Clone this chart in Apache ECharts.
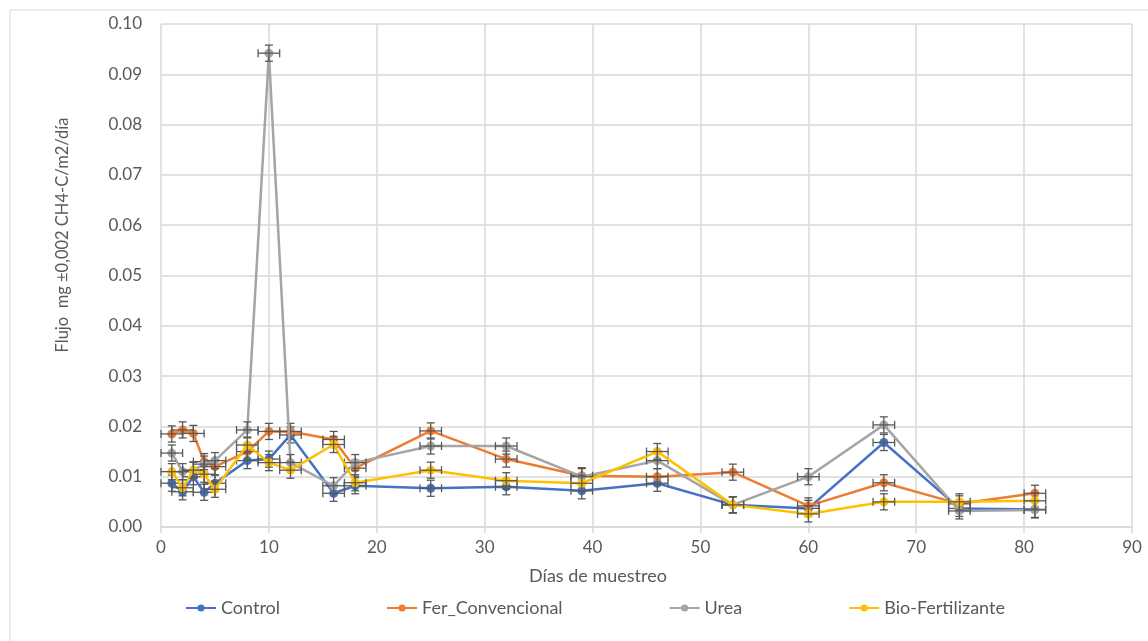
<!DOCTYPE html>
<html>
<head>
<meta charset="utf-8">
<script src="https://cdn.jsdelivr.net/npm/echarts@6/dist/echarts.min.js"></script>
<style>
html,body{margin:0;padding:0;background:#fff;}
#chart{width:1148px;height:641px;}
</style>
</head>
<body>
<div id="chart"></div>
<script>
const days = [1,2,3,4,5,8,10,12,16,18,25,32,39,46,53,60,67,74,81];
const control = [0.0087,0.0070,0.0100,0.0069,0.0087,0.0132,0.0135,0.0183,0.0067,0.0082,0.0077,0.0080,0.0072,0.0087,0.0044,0.0037,0.0168,0.0037,0.0035];
const ferConvencional = [0.0185,0.0193,0.0186,0.0130,0.0120,0.0150,0.0190,0.0190,0.0174,0.0117,0.0191,0.0135,0.0102,0.0100,0.0109,0.0042,0.0088,0.0046,0.0067];
const urea = [0.0147,0.0110,0.0113,0.0125,0.0132,0.0193,0.0942,0.0128,0.0082,0.0128,0.0161,0.0161,0.0100,0.0132,0.0044,0.0100,0.0203,0.0032,0.0034];
const bioFertilizante = [0.0110,0.0078,0.0113,0.0105,0.0075,0.0163,0.0128,0.0113,0.0164,0.0088,0.0113,0.0092,0.0087,0.0150,0.0044,0.0026,0.0050,0.0050,0.0052];
const seriesNames = ['Control','Fer_Convencional','Urea','Bio-Fertilizante'];
const seriesColors = ['#4472C4','#ED7D31','#A5A5A5','#FFC000'];
const yErr = 0.0016;
const xErr = 1;
const yTicks = {min:0, max:0.1, interval:0.01};
const xTicks = {min:0, max:90, interval:10};

const allValues = [control, ferConvencional, urea, bioFertilizante];
const font = 'Lato, "Open Sans", sans-serif';

const chart = echarts.init(document.getElementById('chart'));
const series = [];
allValues.forEach((vals, i) => {
  const data = days.map((d, k) => [d, vals[k]]);
  series.push({
    name: seriesNames[i],
    type: 'line',
    data: data,
    symbol: 'circle',
    symbolSize: 9,
    lineStyle: {width: 2.5, color: seriesColors[i]},
    itemStyle: {color: seriesColors[i]},
    z: 2 + i * 2
  });
  series.push({
    name: seriesNames[i] + ' err',
    type: 'custom',
    data: data,
    z: 3 + i * 2,
    silent: true,
    renderItem: function (params, api) {
      const x = api.value(0), y = api.value(1);
      const t = api.coord([x, y + yErr]);
      const b = api.coord([x, y - yErr]);
      const l = api.coord([x - xErr, y]);
      const r = api.coord([x + xErr, y]);
      const cap = 4;
      const st = {stroke: '#595959', lineWidth: 1.3};
      return {
        type: 'group',
        children: [
          {type: 'line', shape: {x1: t[0], y1: t[1], x2: b[0], y2: b[1]}, style: st},
          {type: 'line', shape: {x1: t[0]-cap, y1: t[1], x2: t[0]+cap, y2: t[1]}, style: st},
          {type: 'line', shape: {x1: b[0]-cap, y1: b[1], x2: b[0]+cap, y2: b[1]}, style: st},
          {type: 'line', shape: {x1: l[0], y1: l[1], x2: r[0], y2: r[1]}, style: st},
          {type: 'line', shape: {x1: l[0], y1: l[1]-cap, x2: l[0], y2: l[1]+cap}, style: st},
          {type: 'line', shape: {x1: r[0], y1: r[1]-cap, x2: r[0], y2: r[1]+cap}, style: st}
        ]
      };
    }
  });
});

chart.setOption({
  backgroundColor: '#fff',
  animation: false,
  grid: {left: 161, right: 16, top: 24, bottom: 114},
  xAxis: {
    type: 'value', min: xTicks.min, max: xTicks.max, interval: xTicks.interval,
    axisLine: {show: true, lineStyle: {color: '#d9d9d9', width: 1.5}},
    axisTick: {show: true, length: 6, lineStyle: {color: '#d9d9d9', width: 1.5}},
    splitLine: {show: true, lineStyle: {color: '#d9d9d9', width: 1.5}},
    axisLabel: {color: '#595959', fontSize: 17, fontFamily: font, margin: 12}
  },
  yAxis: {
    type: 'value', min: yTicks.min, max: yTicks.max, interval: yTicks.interval,
    axisLine: {show: false},
    axisTick: {show: false},
    splitLine: {show: true, lineStyle: {color: '#d9d9d9', width: 1.5}},
    axisLabel: {color: '#595959', fontSize: 17, fontFamily: font, margin: 19,
      formatter: v => v.toFixed(2)}
  },
  legend: {
    data: seriesNames,
    left: 180, top: 594,
    itemGap: 106, itemWidth: 30, itemHeight: 9,
    textStyle: {color: '#595959', fontSize: 18, fontFamily: font}
  },
  graphic: [
    {type: 'rect', shape: {x: 10, y: 10, width: 1200, height: 700},
      style: {fill: 'none', stroke: '#d9d9d9', lineWidth: 1}, silent: true, z: -1},
    {type: 'text', x: 598, y: 576,
      style: {text: 'Días de muestreo', fill: '#595959', font: '18px ' + font,
        textAlign: 'center', textVerticalAlign: 'middle'}},
    {type: 'text', x: 63, y: 235, rotation: Math.PI / 2,
      style: {text: 'Flujo  mg ±0,002 CH4-C/m2/día', fill: '#595959', font: '16.5px ' + font,
        textAlign: 'center', textVerticalAlign: 'middle'}}
  ],
  series: series
});
</script>
</body>
</html>
